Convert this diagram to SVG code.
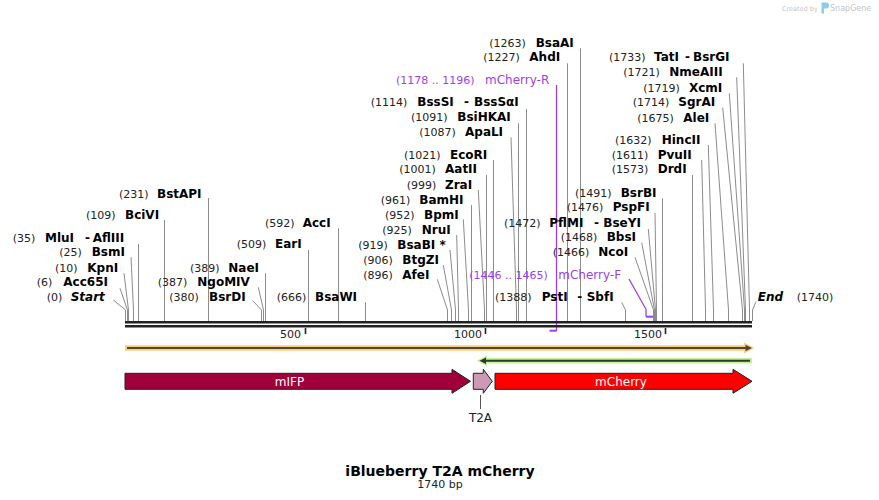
<svg xmlns="http://www.w3.org/2000/svg" width="879" height="500" viewBox="0 0 879 500">
<style>
text{font-family:"DejaVu Sans","Liberation Sans",sans-serif}
.n{font-size:11px;fill:#222}
.b{font-size:12px;font-weight:bold;fill:#000}
.bi{font-size:12px;font-weight:bold;font-style:italic;fill:#000}
.pn{font-size:11px;fill:#9a3ff0}
.pl{font-size:12px;fill:#9a3ff0}
.ln{stroke:#8c8c8c;stroke-width:1;fill:none}
.pr{stroke:#9a3ff0;stroke-width:1.3;fill:none}
.hk{stroke:#9a3ff0;stroke-width:2;fill:none}
.ft{stroke:#222;stroke-width:1}
.ftx{font-size:12px;fill:#fff;text-anchor:middle}
.tk{stroke:#222;stroke-width:1.6}
.tl{font-size:11px;fill:#222;text-anchor:end}
</style>
<rect width="879" height="500" fill="#fff"/>

<g id="credit">
<text x="782" y="10.5" style="font-size:6.5px;fill:#c4c4c4">Created by</text>
<path d="M821.5 2.5 h4.5 a3 3 0 0 1 0 6 h-2 v5 h-2.5 z" fill="#8ecbf0"/>
<text x="830" y="11" style="font-size:8px;fill:#c4c4c4">SnapGene</text>
</g>

<g id="connectors">
<path class="ln" d="M113.3 300 L125.5 310 V321"/>
<path class="ln" d="M120 288.3 L127.5 310 V321"/>
<path class="ln" d="M124 273.3 L128.5 310 V321"/>
<path class="ln" d="M131 257.3 L133.5 310 V321"/>
<path class="ln" d="M138.5 244 V321"/>
<path class="ln" d="M164.5 220 V321"/>
<path class="ln" d="M208.5 198 V321"/>
<path class="ln" d="M252.7 300.7 L261.5 310 V321"/>
<path class="ln" d="M258.3 287.3 L263.5 310 V321"/>
<path class="ln" d="M265.5 273.3 V321"/>
<path class="ln" d="M308.5 250 V321"/>
<path class="ln" d="M338.5 228.3 V321"/>
<path class="ln" d="M365.5 302.3 V321"/>
<path class="ln" d="M437.3 279.3 L447.5 310 V321"/>
<path class="ln" d="M443.3 265 L451.5 310 V321"/>
<path class="ln" d="M450 250 L455.5 310 V321"/>
<path class="ln" d="M456.7 235 L458.5 310 V321"/>
<path class="ln" d="M463.3 219.3 L468.5 310 V321"/>
<path class="ln" d="M471.5 205 V321"/>
<path class="ln" d="M478.3 190 L484.5 310 V321"/>
<path class="ln" d="M486.5 175 V321"/>
<path class="ln" d="M493.5 160 V321"/>
<path class="ln" d="M511 137.3 L516.5 310 V321"/>
<path class="ln" d="M518.5 123.3 V321"/>
<path class="ln" d="M526.5 109 V321"/>
<path class="ln" d="M567.5 63.3 V321"/>
<path class="ln" d="M580.5 48.3 V321"/>
<path class="ln" d="M621.7 302.3 L625.5 310 V321"/>
<path class="ln" d="M635 257.3 L653.5 310 V321"/>
<path class="ln" d="M641.7 242.7 L654.5 310 V321"/>
<path class="ln" d="M648.3 229 L655.5 310 V321"/>
<path class="ln" d="M655 212.7 L656.5 310 V321"/>
<path class="ln" d="M662.5 198.3 V321"/>
<path class="ln" d="M692.5 175 V321"/>
<path class="ln" d="M701.7 160 L705.5 310 V321"/>
<path class="ln" d="M708.3 145 L713.5 310 V321"/>
<path class="ln" d="M715 123.3 L728.5 310 V321"/>
<path class="ln" d="M722.7 107.7 L742.5 310 V321"/>
<path class="ln" d="M729.3 93.3 L744.5 310 V321"/>
<path class="ln" d="M736.7 77.3 L745.5 310 V321"/>
<path class="ln" d="M743.3 63.3 L749.5 310 V321"/>
<path class="ln" d="M756 301.7 L752.5 310 V321"/>
<path class="pr" d="M556.5 85 V331"/>
<path class="hk" d="M556.5 330.7 H549.5"/>
<path class="pr" d="M629 279 L646 309.3 V316.7"/>
<path class="hk" d="M646 316.7 H653"/>
<line x1="480.5" y1="395" x2="480.5" y2="409" stroke="#555" stroke-width="1"/>
</g>

<g id="sequence">
<rect x="125" y="321" width="627" height="2.5" fill="#222"/>
<rect x="125" y="325" width="627" height="2.5" fill="#222"/>
<line class="tk" x1="305.5" y1="328" x2="305.5" y2="334"/>
<line class="tk" x1="485.5" y1="328" x2="485.5" y2="334"/>
<line class="tk" x1="665.5" y1="328" x2="665.5" y2="334"/>
<text class="tl" x="301" y="337.5">500</text>
<text class="tl" x="482" y="337.5">1000</text>
<text class="tl" x="662" y="337.5">1500</text>
</g>

<g id="orf-forward">
<rect x="125" y="345.2" width="625" height="5.6" fill="#f9d083"/>
<polygon points="744,342.5 754.5,348 744,353.5" fill="#f9d083"/>
<line x1="127" y1="348" x2="747" y2="348" stroke="#554530" stroke-width="2"/>
<polygon points="745.5,344.8 752,348 745.5,351.2" fill="#554530"/>
</g>

<g id="orf-reverse">
<rect x="484" y="358" width="268" height="5.4" fill="#bdf38e"/>
<polygon points="487,355.2 477,360.7 487,366.2" fill="#bdf38e"/>
<line x1="485" y1="360.7" x2="750" y2="360.7" stroke="#333" stroke-width="2"/>
<polygon points="486,357.5 479.5,360.7 486,363.9" fill="#333"/>
</g>

<g id="mIFP">
<polygon class="ft" points="125,373.3 452,373.3 452,369.3 470.5,381.3 452,393.3 452,389.3 125,389.3" fill="#a0003a"/>
<text class="ftx" x="289.5" y="385.5">mIFP</text>
</g>
<g id="T2A">
<polygon class="ft" points="473.3,373.3 483.3,373.3 483.3,369.3 492.3,381.3 483.3,393.3 483.3,389.3 473.3,389.3" fill="#cc9ab5"/>
<text x="480.5" y="422" text-anchor="middle" style="font-size:12px;fill:#222">T2A</text>
</g>
<g id="mCherry">
<polygon class="ft" points="495,373.3 733,373.3 733,369.3 752,381.3 733,393.3 733,389.3 495,389.3" fill="#ff0000"/>
<text class="ftx" x="621" y="385.5">mCherry</text>
</g>

<g id="site-Start"><text class="n" x="46.7" y="301.2">(0)</text><text class="bi" x="70.7" y="301.2">Start</text></g>
<g id="site-Acc65I"><text class="n" x="36.7" y="286.2">(6)</text><text class="b" x="63.3" y="286.2">Acc65I</text></g>
<g id="site-KpnI"><text class="n" x="55" y="271.8">(10)</text><text class="b" x="87.3" y="271.8">KpnI</text></g>
<g id="site-BsmI"><text class="n" x="59.3" y="256.2">(25)</text><text class="b" x="91.7" y="256.2">BsmI</text></g>
<g id="site-MluI"><text class="n" x="12.7" y="241.8">(35)</text><text class="b" x="45" y="241.8">MluI</text><text class="b" x="85" y="241.8">-</text><text class="b" x="92.7" y="241.8">AflIII</text></g>
<g id="site-BciVI"><text class="n" x="86" y="218.5">(109)</text><text class="b" x="125" y="218.5">BciVI</text></g>
<g id="site-BstAPI"><text class="n" x="119" y="197.5">(231)</text><text class="b" x="157" y="197.5">BstAPI</text></g>
<g id="site-BsrDI"><text class="n" x="169.3" y="301.2">(380)</text><text class="b" x="209" y="301.2">BsrDI</text></g>
<g id="site-NgoMIV"><text class="n" x="157.7" y="286.2">(387)</text><text class="b" x="197.3" y="286.2">NgoMIV</text></g>
<g id="site-NaeI"><text class="n" x="190" y="271.8">(389)</text><text class="b" x="228.3" y="271.8">NaeI</text></g>
<g id="site-EarI"><text class="n" x="236.7" y="247.8">(509)</text><text class="b" x="275" y="247.8">EarI</text></g>
<g id="site-AccI"><text class="n" x="265" y="226.8">(592)</text><text class="b" x="302.7" y="226.8">AccI</text></g>
<g id="site-BsaWI"><text class="n" x="276.7" y="301.2">(666)</text><text class="b" x="315" y="301.2">BsaWI</text></g>
<g id="site-AfeI"><text class="n" x="363.3" y="278.5">(896)</text><text class="b" x="402.3" y="278.5">AfeI</text></g>
<g id="site-BtgZI"><text class="n" x="363.3" y="263.8">(906)</text><text class="b" x="402.3" y="263.8">BtgZI</text></g>
<g id="site-BsaBI"><text class="n" x="358.3" y="248.5">(919)</text><text class="b" x="397.3" y="248.5">BsaBI *</text></g>
<g id="site-NruI"><text class="n" x="382.3" y="233.5">(925)</text><text class="b" x="421.7" y="233.5">NruI</text></g>
<g id="site-BpmI"><text class="n" x="385" y="218.5">(952)</text><text class="b" x="424" y="218.5">BpmI</text></g>
<g id="site-BamHI"><text class="n" x="380.7" y="203.5">(961)</text><text class="b" x="419.3" y="203.5">BamHI</text></g>
<g id="site-ZraI"><text class="n" x="406.7" y="188.5">(999)</text><text class="b" x="445" y="188.5">ZraI</text></g>
<g id="site-AatII"><text class="n" x="399.3" y="172.8">(1001)</text><text class="b" x="445" y="172.8">AatII</text></g>
<g id="site-EcoRI"><text class="n" x="404" y="158.5">(1021)</text><text class="b" x="450" y="158.5">EcoRI</text></g>
<g id="site-ApaLI"><text class="n" x="419.3" y="136.2">(1087)</text><text class="b" x="465" y="136.2">ApaLI</text></g>
<g id="site-BsiHKAI"><text class="n" x="411" y="121.2">(1091)</text><text class="b" x="457.3" y="121.2">BsiHKAI</text></g>
<g id="site-BssSI"><text class="n" x="370.7" y="106.2">(1114)</text><text class="b" x="417.3" y="106.2">BssSI</text><text class="b" x="464" y="106.2">-</text><text class="b" x="474" y="106.2">BssSαI</text></g>
<g id="primer-mCherry-R"><text class="pn" x="396" y="83.5">(1178 .. 1196)</text><text class="pl" x="485" y="83.5">mCherry-R</text></g>
<g id="site-AhdI"><text class="n" x="483.3" y="61.2">(1227)</text><text class="b" x="529.3" y="61.2">AhdI</text></g>
<g id="site-BsaAI"><text class="n" x="489.3" y="46.8">(1263)</text><text class="b" x="535.7" y="46.8">BsaAI</text></g>
<g id="site-PstI"><text class="n" x="495" y="301.2">(1388)</text><text class="b" x="541.7" y="301.2">PstI</text><text class="b" x="577.3" y="301.2">-</text><text class="b" x="586.7" y="301.2">SbfI</text></g>
<g id="primer-mCherry-F"><text class="pn" x="469.3" y="278.5">(1446 .. 1465)</text><text class="pl" x="558.3" y="278.5">mCherry-F</text></g>
<g id="site-NcoI"><text class="n" x="552.7" y="256.2">(1466)</text><text class="b" x="598.3" y="256.2">NcoI</text></g>
<g id="site-BbsI"><text class="n" x="560.7" y="241.2">(1468)</text><text class="b" x="606.7" y="241.2">BbsI</text></g>
<g id="site-PflMI"><text class="n" x="504" y="226.8">(1472)</text><text class="b" x="549.3" y="226.8">PflMI</text><text class="b" x="594" y="226.8">-</text><text class="b" x="603.3" y="226.8">BseYI</text></g>
<g id="site-PspFI"><text class="n" x="566.7" y="211.2">(1476)</text><text class="b" x="612.7" y="211.2">PspFI</text></g>
<g id="site-BsrBI"><text class="n" x="575" y="196.8">(1491)</text><text class="b" x="620.7" y="196.8">BsrBI</text></g>
<g id="site-DrdI"><text class="n" x="611.7" y="172.8">(1573)</text><text class="b" x="657.7" y="172.8">DrdI</text></g>
<g id="site-PvuII"><text class="n" x="611.7" y="158.5">(1611)</text><text class="b" x="657.7" y="158.5">PvuII</text></g>
<g id="site-HincII"><text class="n" x="615" y="143.5">(1632)</text><text class="b" x="661.7" y="143.5">HincII</text></g>
<g id="site-AleI"><text class="n" x="637.3" y="121.8">(1675)</text><text class="b" x="683.3" y="121.8">AleI</text></g>
<g id="site-SgrAI"><text class="n" x="632.7" y="106.2">(1714)</text><text class="b" x="678.3" y="106.2">SgrAI</text></g>
<g id="site-XcmI"><text class="n" x="643.3" y="91.8">(1719)</text><text class="b" x="689" y="91.8">XcmI</text></g>
<g id="site-NmeAIII"><text class="n" x="623.3" y="76.2">(1721)</text><text class="b" x="669.3" y="76.2">NmeAIII</text></g>
<g id="site-TatI"><text class="n" x="609" y="61.2">(1733)</text><text class="b" x="654" y="61.2">TatI</text><text class="b" x="685" y="61.2">-</text><text class="b" x="693" y="61.2">BsrGI</text></g>
<g id="site-End"><text class="bi" x="757.7" y="301.2">End</text><text class="n" x="796.7" y="301.2">(1740)</text></g>

<g id="title">
<text x="440" y="475.5" text-anchor="middle" style="font-size:14px;font-weight:bold;fill:#000">iBlueberry T2A mCherry</text>
<text x="440" y="488" text-anchor="middle" style="font-size:11px;fill:#222">1740 bp</text>
</g>
</svg>
